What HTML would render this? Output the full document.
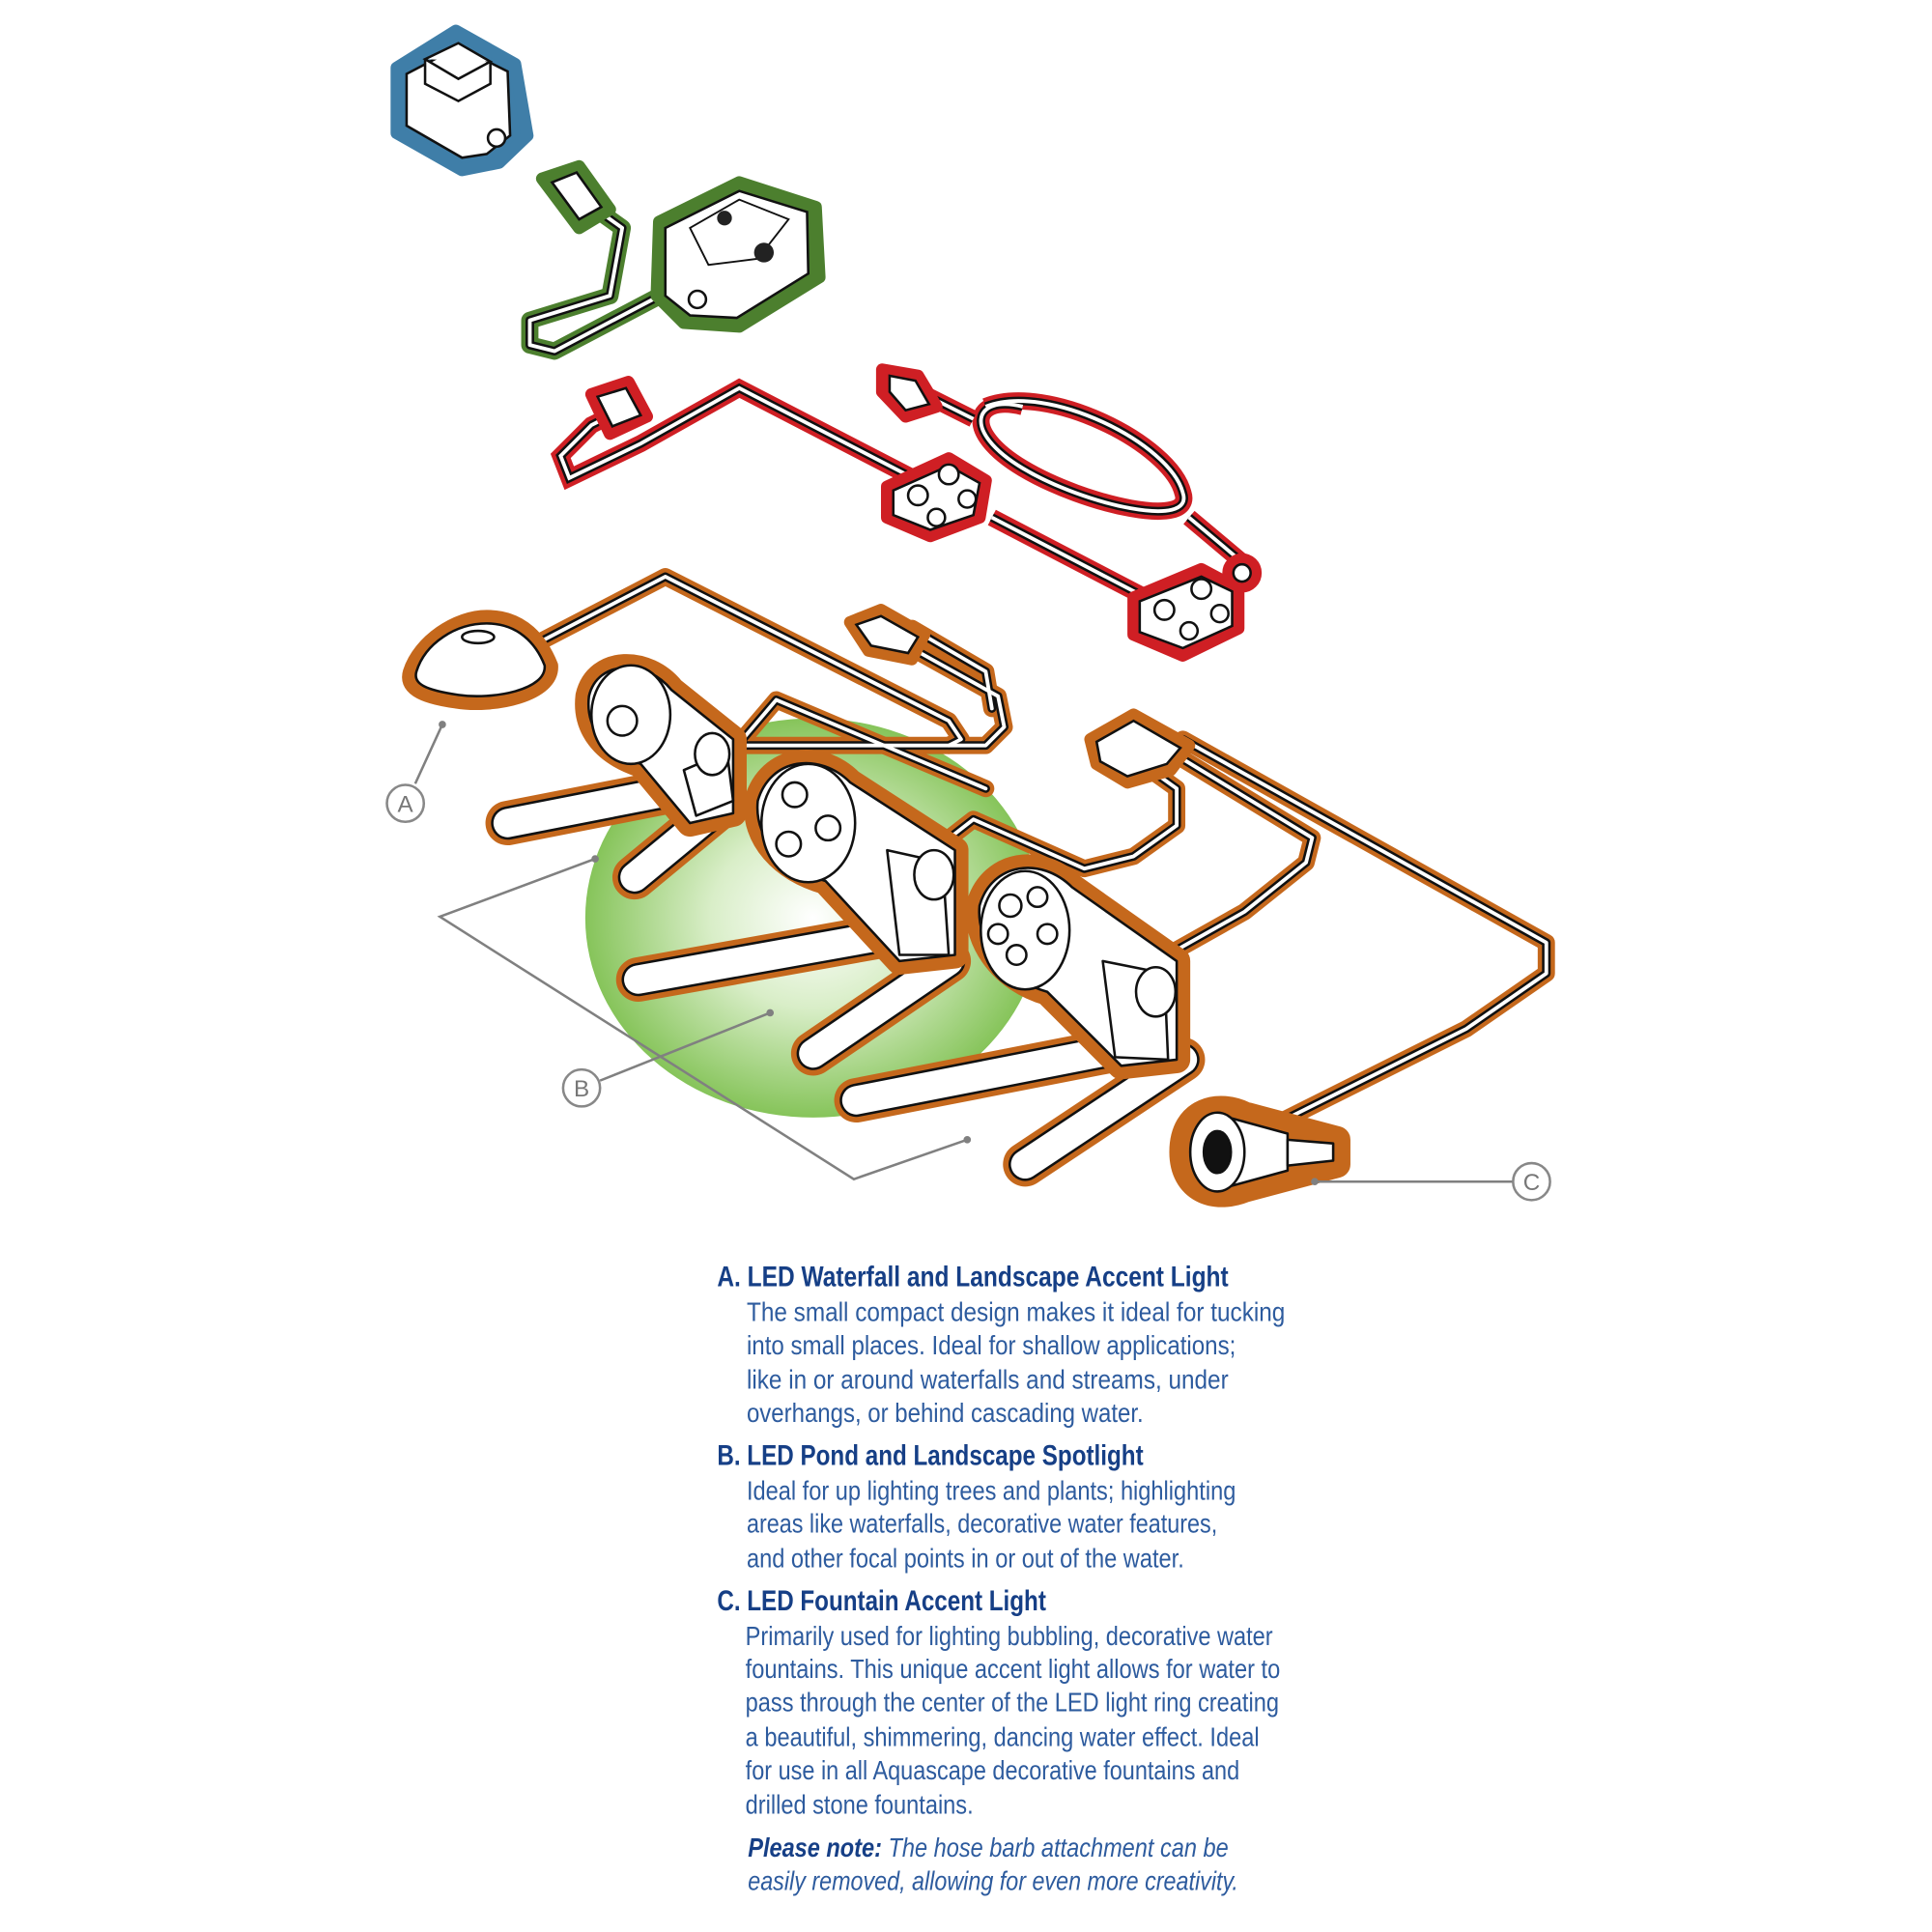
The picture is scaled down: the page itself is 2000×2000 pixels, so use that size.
<!DOCTYPE html>
<html><head><meta charset="utf-8"><style>
html,body{margin:0;padding:0;background:#fff;}
svg{display:block;}
.h{font-family:"Liberation Sans",sans-serif;font-weight:bold;font-size:23px;fill:#163f86;}
.b{font-family:"Liberation Sans",sans-serif;font-size:22px;fill:#2d5b9e;}
.n{font-family:"Liberation Sans",sans-serif;font-style:italic;font-size:22px;fill:#2d5b9e;}
.lbl{font-family:"Liberation Sans",sans-serif;font-size:19px;fill:#777;}
</style></head><body>
<svg width="2000" height="2000" viewBox="0 0 1568 1568" xmlns="http://www.w3.org/2000/svg">
<defs>
<radialGradient id="g" cx="0.5" cy="0.5" r="0.5">
<stop offset="0" stop-color="#ffffff"/><stop offset="0.45" stop-color="#d9eec8"/><stop offset="1" stop-color="#86c45a"/>
</radialGradient>
</defs>
<ellipse cx="660" cy="745" rx="185" ry="162" fill="url(#g)"/>

<!-- transformer -->
<path d="M322,55 L370,25 L418,52 L428,110 L405,132 L375,138 L322,108 Z" fill="#3f7ea8" stroke="#3f7ea8" stroke-width="10" stroke-linejoin="round"/>
<path d="M330,60 L372,38 L412,58 L414,110 L395,125 L375,128 L330,102 Z" fill="#fff" stroke="#111" stroke-width="2"/>
<path d="M345,48 L372,35 L398,50 L372,64 Z M345,48 L345,68 L372,82 L398,68 L398,50" fill="#fff" stroke="#111" stroke-width="2"/>
<circle cx="403" cy="112" r="7" fill="#fff" stroke="#111" stroke-width="2"/>

<!-- green controller -->
<g stroke-linecap="round" stroke-linejoin="round" fill="none">
<path d="M470,160 L505,185 L495,240 L430,260 L430,280 L450,285 L545,235" stroke="#4c7f2e" stroke-width="14"/>
<path d="M470,160 L505,185 L495,240 L430,260 L430,280 L450,285 L545,235" stroke="#111" stroke-width="7"/>
<path d="M470,160 L505,185 L495,240 L430,260 L430,280 L450,285 L545,235" stroke="#fff" stroke-width="3"/>
</g>
<path d="M440,145 L470,135 L495,170 L470,185 Z" fill="#4c7f2e" stroke="#4c7f2e" stroke-width="10" stroke-linejoin="round"/>
<path d="M448,148 L468,140 L488,168 L470,178 Z" fill="#fff" stroke="#111" stroke-width="2"/>
<path d="M535,180 L600,148 L662,168 L665,225 L600,265 L555,262 L533,240 Z" fill="#4c7f2e" stroke="#4c7f2e" stroke-width="10" stroke-linejoin="round"/>
<path d="M540,185 L600,155 L655,172 L656,222 L598,258 L560,256 L540,240 Z" fill="#fff" stroke="#111" stroke-width="2"/>
<path d="M560,185 L600,162 L640,178 L615,210 L575,215 Z" fill="#fff" stroke="#111" stroke-width="1.5"/>
<circle cx="588" cy="177" r="6" fill="#222"/><circle cx="620" cy="205" r="8" fill="#222"/>
<circle cx="566" cy="243" r="7" fill="#fff" stroke="#111" stroke-width="2"/>

<!-- red cables -->
<g stroke-linecap="round" stroke-linejoin="round" fill="none">
<g id="rc">
<path d="M510,330 L480,345 L455,370 L462,388 L520,360 L600,315 L745,390"/>
<path d="M740,315 L790,340 M965,420 L1015,462"/>
<path d="M805,420 L930,485"/>
<path d="M800,330 C850,310 950,360 960,400 C970,430 880,410 830,380 C780,350 790,320 830,330"/>
</g>
</g>
<use href="#rc" stroke="#cf1f24" stroke-width="14" fill="none"/>
<use href="#rc" stroke="#111" stroke-width="7" fill="none"/>
<use href="#rc" stroke="#fff" stroke-width="3" fill="none"/>
<g fill="#cf1f24" stroke="#cf1f24" stroke-width="10" stroke-linejoin="round">
<path d="M480,320 L510,310 L525,338 L495,352 Z"/>
<path d="M716,300 L745,305 L760,330 L735,338 L716,318 Z"/>
<path d="M720,395 L770,372 L800,390 L795,420 L755,435 L720,420 Z"/>
<path d="M920,485 L975,462 L1005,478 L1005,510 L960,532 L920,515 Z"/>
<circle cx="1008" cy="465" r="11"/>
</g>
<g fill="#fff" stroke="#111" stroke-width="2">
<path d="M485,322 L508,315 L520,337 L497,346 Z"/>
<path d="M722,305 L743,309 L754,328 L735,333 L722,318 Z"/>
<path d="M725,398 L770,378 L795,392 L790,418 L755,430 L725,418 Z"/>
<circle cx="770" cy="385" r="8"/><circle cx="745" cy="402" r="8"/><circle cx="760" cy="420" r="7"/><circle cx="785" cy="405" r="7"/>
<path d="M925,488 L975,468 L1000,480 L1000,508 L960,526 L925,513 Z"/>
<circle cx="975" cy="478" r="8"/><circle cx="945" cy="495" r="8"/><circle cx="965" cy="512" r="7"/><circle cx="990" cy="498" r="7"/>
<circle cx="1008" cy="465" r="7"/>
</g>

<!-- orange cables -->
<g id="oc" fill="none" stroke-linecap="round" stroke-linejoin="round">
<path d="M440,520 L540,468 L770,585 L780,600 L770,605"/>
<path d="M720,515 L810,565 L815,590 L800,605 L580,605"/>
<path d="M740,510 L800,545 L805,575"/>
<path d="M590,615 L630,568 L800,640"/>
<path d="M745,700 L790,665 L880,705 L920,695 L955,670 L955,640 L920,615"/>
<path d="M930,785 L1010,740 L1060,700 L1065,680 L950,610"/>
<path d="M1040,910 L1190,835 L1255,790 L1255,765 L960,600"/>
</g>
<use href="#oc" stroke="#c5681c" stroke-width="14"/>
<use href="#oc" stroke="#111" stroke-width="7"/>
<use href="#oc" stroke="#fff" stroke-width="3"/>
<g fill="#c5681c" stroke="#c5681c" stroke-width="10" stroke-linejoin="round">
<path d="M690,505 L715,495 L750,515 L740,535 L705,528 Z"/>
<path d="M885,600 L920,580 L965,605 L950,625 L915,635 L890,620 Z"/>
</g>
<g fill="#fff" stroke="#111" stroke-width="2">
<path d="M695,507 L715,500 L745,517 L737,530 L707,524 Z"/>
<path d="M890,602 L920,585 L958,607 L947,620 L915,630 L893,618 Z"/>
</g>

<!-- A light -->
<path d="M332,545 C340,520 370,500 395,500 C425,500 440,520 448,540 C450,565 400,575 370,570 C340,566 328,558 332,545 Z" fill="#c5681c" stroke="#c5681c" stroke-width="10" stroke-linejoin="round"/>
<path d="M338,545 C345,522 370,506 395,506 C420,506 435,522 442,540 C444,560 400,568 372,564 C345,560 335,555 338,545 Z" fill="#fff" stroke="#111" stroke-width="2"/>
<ellipse cx="388" cy="517" rx="13" ry="5" fill="#fff" stroke="#111" stroke-width="2"/>

<!-- spotlights -->
<g id="stakes" fill="none" stroke-linecap="round" stroke-linejoin="round">
<path d="M412,668 L555,640 M515,712 L590,650"/>
<path d="M518,795 L725,758 M660,855 L770,780"/>
<path d="M695,893 L905,852 M832,945 L960,860"/>
</g>
<use href="#stakes" stroke="#c5681c" stroke-width="36"/>
<use href="#stakes" stroke="#111" stroke-width="27"/>
<use href="#stakes" stroke="#fff" stroke-width="23"/>
<g stroke-linejoin="round">
<g fill="#fff" stroke="#c5681c" stroke-width="22">
<path d="M478,565 C485,535 525,535 545,560 L595,600 L595,660 L560,668 L520,620 C490,610 475,590 478,565 Z"/>
<path d="M615,650 C625,615 665,610 690,635 L775,690 L775,775 L730,780 L670,715 C635,705 612,680 615,650 Z"/>
<path d="M795,735 C805,700 845,695 870,720 L955,780 L955,860 L910,865 L850,805 C815,795 792,765 795,735 Z"/>
<path d="M960,935 C960,900 990,895 1010,905 L1085,925 L1085,945 L1010,965 C985,975 960,965 960,935 Z"/>
</g>
<g fill="#fff" stroke="#111" stroke-width="2">
<path d="M478,565 C485,535 525,535 545,560 L595,600 L595,660 L560,668 L520,620 C490,610 475,590 478,565 Z"/>
<path d="M615,650 C625,615 665,610 690,635 L775,690 L775,775 L730,780 L670,715 C635,705 612,680 615,650 Z"/>
<path d="M795,735 C805,700 845,695 870,720 L955,780 L955,860 L910,865 L850,805 C815,795 792,765 795,735 Z"/>
<ellipse cx="512" cy="580" rx="32" ry="40"/><circle cx="505" cy="585" r="12"/>
<path d="M555,625 L590,610 L595,650 L565,662 Z"/><ellipse cx="578" cy="612" rx="14" ry="17"/>
<ellipse cx="656" cy="668" rx="38" ry="48"/><circle cx="645" cy="645" r="10"/><circle cx="640" cy="685" r="10"/><circle cx="672" cy="672" r="10"/>
<path d="M720,690 L765,700 L770,775 L730,775 Z"/><ellipse cx="758" cy="710" rx="16" ry="20"/>
<ellipse cx="832" cy="755" rx="36" ry="48"/><circle cx="820" cy="735" r="9"/><circle cx="842" cy="728" r="8"/><circle cx="850" cy="758" r="8"/><circle cx="825" cy="775" r="8"/><circle cx="810" cy="758" r="8"/>
<path d="M895,780 L945,790 L948,860 L905,858 Z"/><ellipse cx="938" cy="805" rx="16" ry="20"/>
<path d="M990,905 L1045,920 L1045,950 L990,965 Z"/>
<ellipse cx="988" cy="935" rx="22" ry="32"/><ellipse cx="988" cy="935" rx="11" ry="17" fill="#111"/>
<path d="M1045,925 L1082,928 L1082,942 L1045,946 Z"/>
</g>
</g>

<!-- leader lines -->
<g stroke="#808080" stroke-width="2" fill="none">
<path d="M359,588 L337,636"/>
<path d="M483,697 L357,744 L693,957 L785,925"/>
<path d="M625,822 L487,877"/>
<path d="M1067,959 L1228,959"/>
</g>
<g fill="#808080"><circle cx="359" cy="588" r="3"/><circle cx="483" cy="697" r="3"/><circle cx="625" cy="822" r="3"/><circle cx="785" cy="925" r="3"/><circle cx="1067" cy="959" r="3"/></g>
<g fill="#fff" stroke="#888" stroke-width="2">
<circle cx="329" cy="652" r="15"/><circle cx="472" cy="883" r="15"/><circle cx="1243" cy="959" r="15"/>
</g>
<text class="lbl" x="329" y="659" text-anchor="middle">A</text>
<text class="lbl" x="472" y="890" text-anchor="middle">B</text>
<text class="lbl" x="1243" y="966" text-anchor="middle">C</text>

<!-- text -->
<text class="h" x="582" y="1044" textLength="415" lengthAdjust="spacingAndGlyphs">A. LED Waterfall and Landscape Accent Light</text>
<text class="b" x="606" y="1072" textLength="437" lengthAdjust="spacingAndGlyphs">The small compact design makes it ideal for tucking</text>
<text class="b" x="606" y="1099" textLength="397" lengthAdjust="spacingAndGlyphs">into small places. Ideal for shallow applications;</text>
<text class="b" x="606" y="1127" textLength="391" lengthAdjust="spacingAndGlyphs">like in or around waterfalls and streams, under</text>
<text class="b" x="606" y="1154" textLength="322" lengthAdjust="spacingAndGlyphs">overhangs, or behind cascading water.</text>
<text class="h" x="582" y="1189" textLength="346" lengthAdjust="spacingAndGlyphs">B. LED Pond and Landscape Spotlight</text>
<text class="b" x="606" y="1217" textLength="397" lengthAdjust="spacingAndGlyphs">Ideal for up lighting trees and plants; highlighting</text>
<text class="b" x="606" y="1244" textLength="382" lengthAdjust="spacingAndGlyphs">areas like waterfalls, decorative water features,</text>
<text class="b" x="606" y="1272" textLength="355" lengthAdjust="spacingAndGlyphs">and other focal points in or out of the water.</text>
<text class="h" x="582" y="1307" textLength="267" lengthAdjust="spacingAndGlyphs">C. LED Fountain Accent Light</text>
<text class="b" x="605" y="1335" textLength="428" lengthAdjust="spacingAndGlyphs">Primarily used for lighting bubbling, decorative water</text>
<text class="b" x="605" y="1362" textLength="434" lengthAdjust="spacingAndGlyphs">fountains. This unique accent light allows for water to</text>
<text class="b" x="605" y="1389" textLength="433" lengthAdjust="spacingAndGlyphs">pass through the center of the LED light ring creating</text>
<text class="b" x="605" y="1417" textLength="417" lengthAdjust="spacingAndGlyphs">a beautiful, shimmering, dancing water effect. Ideal</text>
<text class="b" x="605" y="1444" textLength="401" lengthAdjust="spacingAndGlyphs">for use in all Aquascape decorative fountains and</text>
<text class="b" x="605" y="1472" textLength="185" lengthAdjust="spacingAndGlyphs">drilled stone fountains.</text>
<text class="n" x="607" y="1507" textLength="390" lengthAdjust="spacingAndGlyphs"><tspan font-weight="bold" fill="#163f86">Please note:</tspan> The hose barb attachment can be</text>
<text class="n" x="607" y="1534" textLength="398" lengthAdjust="spacingAndGlyphs">easily removed, allowing for even more creativity.</text>
</svg>
</body></html>
